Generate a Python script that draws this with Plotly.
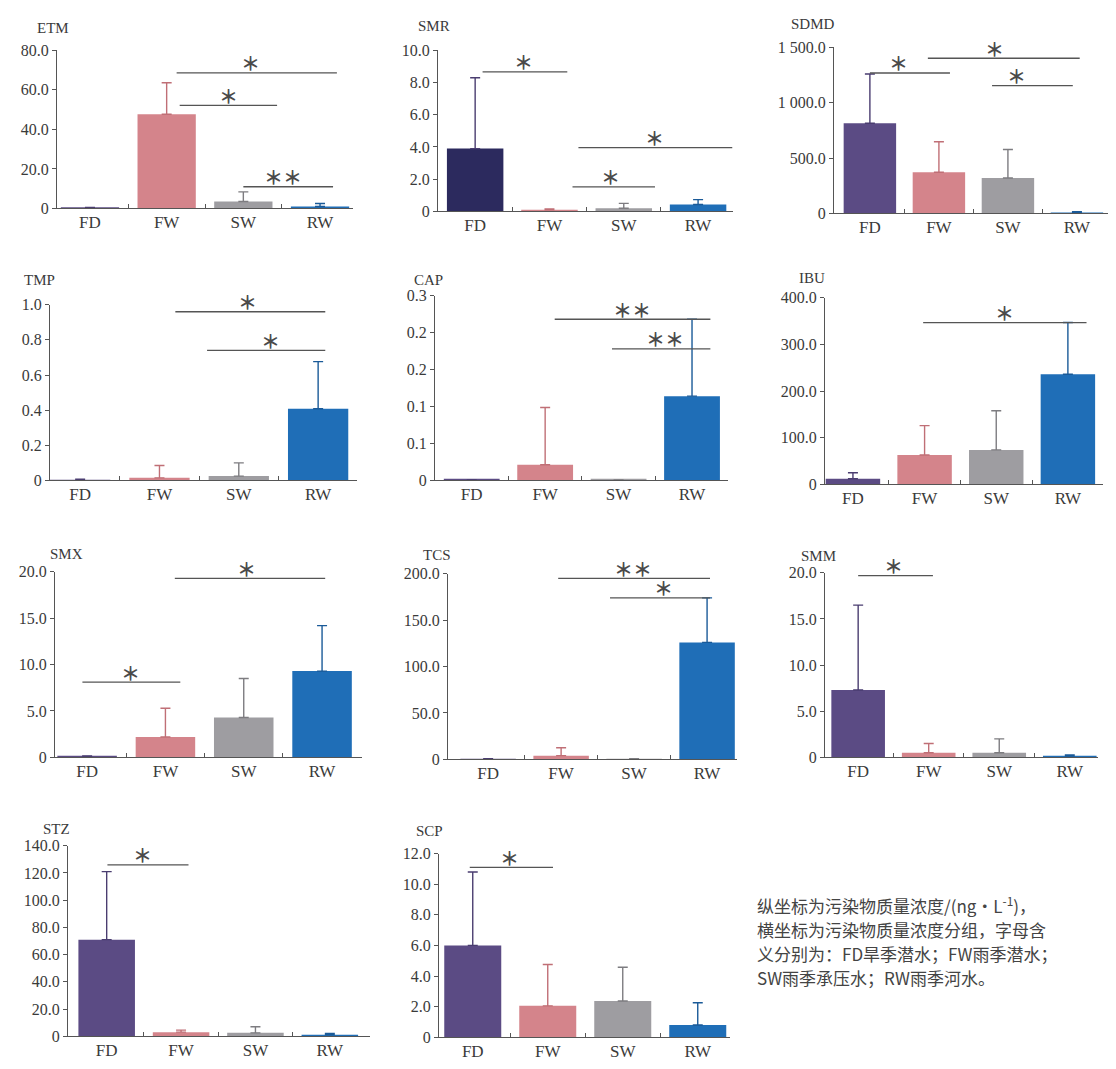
import plotly.graph_objects as go

W, H = 1116, 1069     # browser window
OFF = 8               # default page margin around the figure
FW_, FH_ = W - 2 * OFF, H - 2 * OFF

groups = ["FD", "FW", "SW", "RW"]
panel_names = ["ETM", "SMR", "SDMD", "TMP", "CAP", "IBU", "SMX", "TCS", "SMM", "STZ", "SCP"]

# ---- data (mean and upper error) ----
etm_mean = [0.3, 47.7, 3.5, 1.0]
etm_err = [0.2, 15.9, 4.9, 1.5]
smr_mean = [3.9, 0.1, 0.2, 0.43]
smr_err = [4.4, 0.05, 0.3, 0.3]
sdmd_mean = [815, 372, 320, 8]
sdmd_err = [445, 276, 257, 8]
tmp_mean = [0.003, 0.015, 0.025, 0.408]
tmp_err = [0.004, 0.07, 0.075, 0.268]
cap_mean = [0.001, 0.0255, 0.001, 0.137]
cap_err = [0.0, 0.093, 0.0, 0.125]
ibu_mean = [12, 63, 74, 236]
ibu_err = [13, 63, 84, 111]
smx_mean = [0.1, 2.2, 4.3, 9.3]
smx_err = [0.05, 3.1, 4.2, 4.9]
tcs_mean = [0.5, 4.0, 0.5, 126]
tcs_err = [0.3, 8.5, 0.3, 48]
smm_mean = [7.3, 0.5, 0.5, 0.15]
smm_err = [9.2, 1.0, 1.5, 0.1]
stz_mean = [71, 3.0, 2.5, 1.0]
stz_err = [50, 1.5, 4.5, 1.0]
scp_mean = [6.0, 2.05, 2.37, 0.8]
scp_err = [4.8, 2.7, 2.2, 1.45]

means = [etm_mean, smr_mean, sdmd_mean, tmp_mean, cap_mean, ibu_mean,
         smx_mean, tcs_mean, smm_mean, stz_mean, scp_mean]
errs = [etm_err, smr_err, sdmd_err, tmp_err, cap_err, ibu_err,
        smx_err, tcs_err, smm_err, stz_err, scp_err]

# ---- y tick values and labels ----
ytick_vals = [
    [0, 20, 40, 60, 80],
    [0, 2, 4, 6, 8, 10],
    [0, 500, 1000, 1500],
    [0, 0.2, 0.4, 0.6, 0.8, 1.0],
    [0, 0.06, 0.12, 0.18, 0.24, 0.30],
    [0, 100, 200, 300, 400],
    [0, 5, 10, 15, 20],
    [0, 50, 100, 150, 200],
    [0, 5, 10, 15, 20],
    [0, 20, 40, 60, 80, 100, 120, 140],
    [0, 2, 4, 6, 8, 10, 12],
]
ytick_text = [
    ["0", "20.0", "40.0", "60.0", "80.0"],
    ["0", "2.0", "4.0", "6.0", "8.0", "10.0"],
    ["0", "500.0", "1 000.0", "1 500.0"],
    ["0", "0.2", "0.4", "0.6", "0.8", "1.0"],
    ["0", "0.1", "0.1", "0.2", "0.2", "0.3"],
    ["0", "100.0", "200.0", "300.0", "400.0"],
    ["0", "5.0", "10.0", "15.0", "20.0"],
    ["0", "50.0", "100.0", "150.0", "200.0"],
    ["0", "5.0", "10.0", "15.0", "20.0"],
    ["0", "20.0", "40.0", "60.0", "80.0", "100.0", "120.0", "140.0"],
    ["0", "2.0", "4.0", "6.0", "8.0", "10.0", "12.0"],
]

# ---- significance brackets: (from, to, level, label, label position) ----
sig_from = [[1.13, 1.17, 2.0], [0.10, 1.39, 1.31], [0.0, 0.84, 1.77], [1.2, 1.6],
            [1.13, 1.91], [0.98], [1.12, -0.06], [0.96, 1.67], [0.0], [0.01], [-0.04]]
sig_to = [[3.22, 2.44, 3.17], [1.24, 3.46, 2.42], [1.16, 3.04, 2.94], [3.09, 3.09],
          [3.25, 3.25], [3.26], [3.04, 1.19], [3.04, 3.04], [1.06], [1.1], [1.07]]
sig_level = [[68.6, 52.2, 11.0], [8.66, 3.96, 1.52], [1269, 1402, 1154], [0.96, 0.74],
             [0.262, 0.214], [347], [19.3, 8.1], [195, 174], [19.7], [126], [11.1]]
sig_label = [["＊", "＊", "＊＊"], ["＊", "＊", "＊"], ["＊", "＊", "＊"], ["＊", "＊"],
             ["＊＊", "＊＊"], ["＊"], ["＊", "＊"], ["＊＊", "＊"], ["＊"], ["＊"], ["＊"]]
sig_label_x = [[2.09, 1.80, 2.52], [0.65, 2.42, 1.82], [0.41, 1.81, 2.13], [2.11, 2.4],
               [2.18, 2.63], [2.12], [2.04, 0.55], [1.99, 2.4], [0.5], [0.48], [0.49]]

note_lines = [
    "纵坐标为污染物质量浓度/(ng·L<sup>-1</sup>)，",
    "横坐标为污染物质量浓度分组，字母含",
    "义分别为：FD旱季潜水；FW雨季潜水；",
    "SW雨季承压水；RW雨季河水。",
]

# ---- layout geometry (window pixels) and styles ----
# (x axis left, x axis right, y top tick, y zero, x range lo, x range hi, title x, title y)
geom = [
    (57, 353, 43, 204, -0.43, 3.43, 53, 20),
    (438, 733, 43, 207, -0.50, 3.47, 434, 18),
    (834, 1108, 40, 209, -0.52, 3.45, 813, 16),
    (50, 357, 302, 481, -0.38, 3.49, 39, 277),
    (435, 728, 293, 481, -0.50, 3.49, 428, 277),
    (825, 1103, 295, 485, -0.39, 3.49, 812, 275),
    (55, 362, 574, 763, -0.41, 3.51, 66, 556),
    (448, 737, 576, 765, -0.55, 3.41, 437, 557),
    (825, 1098, 575, 763, -0.47, 3.40, 818, 558),
    (68, 370, 853, 1047, -0.52, 3.54, 56, 836),
    (439, 730, 861, 1048, -0.45, 3.43, 430, 838),
]
note_x = 755
note_y = [913, 938, 963, 987]


def px_x(px):
    return (px - OFF) / FW_


def px_y(py):
    return 1 - (py - OFF) / FH_


bar_colors = ["#5b4b84", "#d4848b", "#9e9da1", "#1f6eb7"]
smr_fd_color = "#2c2a5e"
err_colors = ["#4a3d70", "#c06f76", "#7d7c80", "#1a5a98"]
axis_color = "#555555"
text_color = "#3a3a3a"
serif = "Liberation Serif, Times New Roman, serif"
cjk = "Noto Sans CJK SC"

fig = go.Figure()
layout = dict(
    width=FW_, height=FH_, margin=dict(l=0, r=0, t=0, b=0),
    paper_bgcolor="white", plot_bgcolor="white",
    showlegend=False, barmode="overlay",
    font=dict(family=serif, color=text_color),
)
shapes = []
annotations = []

for p, name in enumerate(panel_names):
    k = "" if p == 0 else str(p + 1)
    xr, yr = "x" + k, "y" + k
    x0, x1, ytop, yzero, lo, hi, tx, ty = geom[p]
    for g in range(4):
        col = bar_colors[g]
        if name == "SMR" and g == 0:
            col = smr_fd_color
        fig.add_trace(go.Bar(
            x=[g], y=[means[p][g]], width=0.76,
            marker=dict(color=col, line=dict(width=0)),
            error_y=dict(type="data", symmetric=False, array=[errs[p][g]],
                         arrayminus=[0], color=err_colors[g], thickness=1.4, width=5),
            xaxis=xr, yaxis=yr, hoverinfo="skip",
        ))
    layout["xaxis" + k] = dict(
        domain=[px_x(x0), px_x(x1)], range=[lo, hi], anchor=yr,
        tickmode="array", tickvals=[0, 1, 2, 3], ticktext=groups, ticks="",
        ticklabelstandoff=-2,
        minor=dict(tickmode="array", tickvals=[0.5, 1.5, 2.5], ticks="inside",
                   ticklen=4, tickcolor=axis_color, tickwidth=1.2),
        showline=True, linecolor=axis_color, linewidth=1.3,
        showgrid=False, zeroline=False, fixedrange=True,
        tickfont=dict(family=serif, size=17, color=text_color),
    )
    top = ytick_vals[p][-1]
    layout["yaxis" + k] = dict(
        domain=[px_y(yzero), px_y(ytop)], range=[0, top], anchor=xr,
        tickmode="array", tickvals=ytick_vals[p], ticktext=ytick_text[p],
        ticks="outside", ticklen=4, tickcolor=axis_color, tickwidth=1.2,
        showline=True, linecolor=axis_color, linewidth=1.3,
        showgrid=False, zeroline=False, fixedrange=True,
        tickfont=dict(family=serif, size=16, color=text_color),
    )
    annotations.append(dict(
        text=name, xref="paper", yref="paper", x=px_x(tx), y=px_y(ty),
        xanchor="center", yanchor="middle", showarrow=False,
        font=dict(family=serif, size=15, color=text_color),
    ))
    for a, b, lev, lab, lx in zip(sig_from[p], sig_to[p], sig_level[p],
                                   sig_label[p], sig_label_x[p]):
        shapes.append(dict(type="line", xref=xr, yref=yr, x0=a, x1=b, y0=lev, y1=lev,
                           line=dict(color=axis_color, width=1.3)))
        annotations.append(dict(
            text=lab, xref=xr, yref=yr, x=lx, y=lev, xanchor="center",
            yanchor="middle", yshift=10, showarrow=False,
            font=dict(family=cjk, size=19, color="#4a4a4a", weight="bold"),
        ))

for line, yy in zip(note_lines, note_y):
    annotations.append(dict(
        text=line, xref="paper", yref="paper", x=px_x(note_x), y=px_y(yy),
        xanchor="left", yanchor="middle", showarrow=False,
        font=dict(family=cjk, size=17, color="#444444"),
    ))

layout["shapes"] = shapes
layout["annotations"] = annotations
fig.update_layout(**layout)

fig.write_html("out.html", config={"displayModeBar": False})
